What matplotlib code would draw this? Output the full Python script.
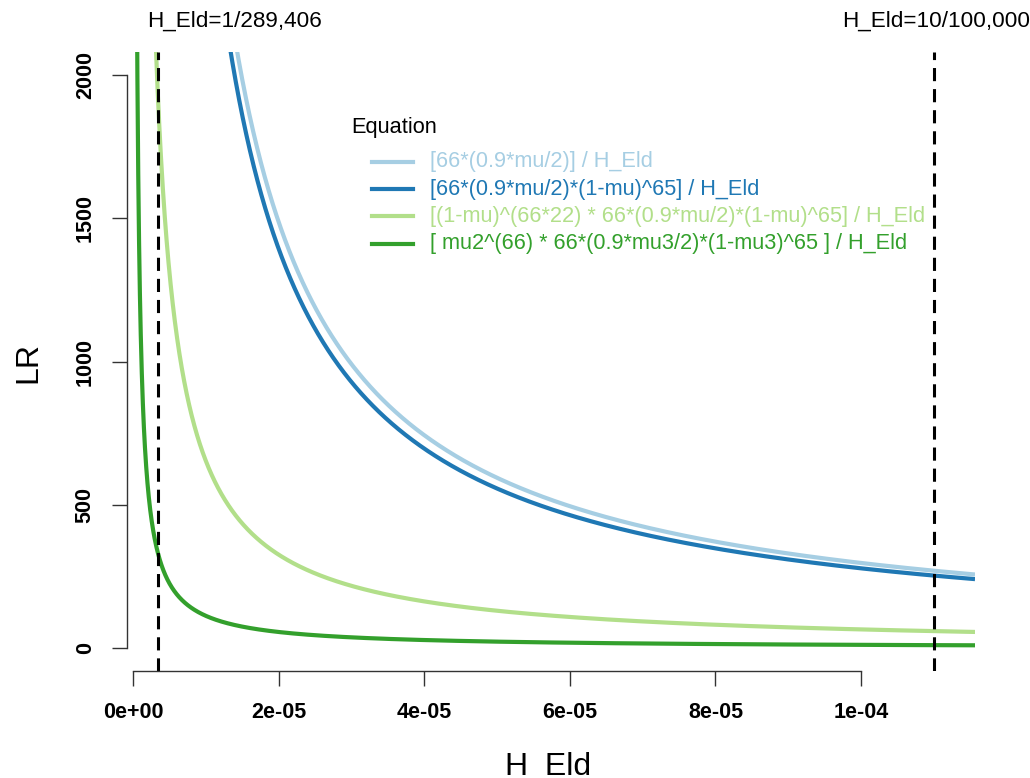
import numpy as np
import matplotlib
matplotlib.use("Agg")
import matplotlib.pyplot as plt

plt.rcParams["font.family"] = ["Liberation Sans", "DejaVu Sans"]

# parameters of the equations shown in the legend
mu = 1e-3
mu2 = 0.9525
mu3 = 1e-3

labels = [
    "[66*(0.9*mu/2)] / H_Eld",
    "[66*(0.9*mu/2)*(1-mu)^65] / H_Eld",
    "[(1-mu)^(66*22) * 66*(0.9*mu/2)*(1-mu)^65] / H_Eld",
    "[ mu2^(66) * 66*(0.9*mu3/2)*(1-mu3)^65 ] / H_Eld",
]
colors = ["#A6CEE3", "#1F78B4", "#B2DF8A", "#33A02C"]

numerators = [
    66 * (0.9 * mu / 2),
    66 * (0.9 * mu / 2) * (1 - mu) ** 65,
    (1 - mu) ** (66 * 22) * 66 * (0.9 * mu / 2) * (1 - mu) ** 65,
    mu2 ** 66 * 66 * (0.9 * mu3 / 2) * (1 - mu3) ** 65,
]

vlines = [1 / 289406, 11e-5]
vline_labels = ["H_Eld=1/289,406", "H_Eld=10/100,000"]
vline_label_left = [147, 842]  # pixel x of text start

x_ticks = [0, 2e-5, 4e-5, 6e-5, 8e-5, 1e-4]
x_ticklabels = ["0e+00", "2e-05", "4e-05", "6e-05", "8e-05", "1e-04"]
y_ticks = [0, 500, 1000, 1500, 2000]

W, H = 1030, 778


def px(x, y):
    return x / W, 1 - y / H


fig = plt.figure(figsize=(W / 100, H / 100), dpi=100)
ax = fig.add_axes([127 / W, 107 / H, (975 - 127) / W, (671 - 52) / H])

h_eld = np.linspace(1e-7, 1.1566e-4, 4000)
for num, col in zip(numerators, colors):
    ax.plot(h_eld, num / h_eld, color=col, lw=3, solid_capstyle="butt")

for v in vlines:
    ax.axvline(v, color="black", lw=2.2, linestyle=(0, (4.3, 2.6)))

ax.set_xlim(-8.66e-7, 1.1566e-4)
ax.set_ylim(-80, 2080)

for s in ["top", "right"]:
    ax.spines[s].set_visible(False)
ax.spines["left"].set_bounds(0, 2000)
ax.spines["bottom"].set_bounds(0, 1e-4)
for s in ["left", "bottom"]:
    ax.spines[s].set_linewidth(1.0)
    ax.spines[s].set_color("#333333")

ax.set_xticks(x_ticks)
ax.set_xticklabels(x_ticklabels, fontsize=15.5, fontweight="bold")
ax.set_yticks(y_ticks)
ax.set_yticklabels([str(v) for v in y_ticks], fontsize=15.5, fontweight="bold",
                   rotation=90, va="center")
ax.tick_params(axis="both", length=10.5, width=1.0, color="#333333")
ax.tick_params(axis="x", pad=12)
ax.tick_params(axis="y", pad=12)

# axis titles
fig.text(*px(28, 362), "LR", fontsize=23, rotation=90, ha="center", va="center")
fig.text(*px(548, 775), "H_Eld", fontsize=23, ha="center", va="baseline")

# labels above the dashed lines
for lab, lx in zip(vline_labels, vline_label_left):
    fig.text(*px(lx, 21), lab, fontsize=16.2, ha="left", va="center")

# legend drawn by hand
fig.text(*px(351, 128), "Equation", fontsize=15.7, ha="left", va="center")
row_y = [162, 189, 216, 244]
for lab, col, ry in zip(labels, colors, row_y):
    fig.add_artist(plt.Line2D([372 / W, 413 / W], [1 - ry / H, 1 - ry / H],
                              color=col, lw=3, transform=fig.transFigure))
    fig.text(*px(430, ry), lab, fontsize=15.7, color=col, ha="left", va="center")

fig.savefig("out.png", dpi=100)
